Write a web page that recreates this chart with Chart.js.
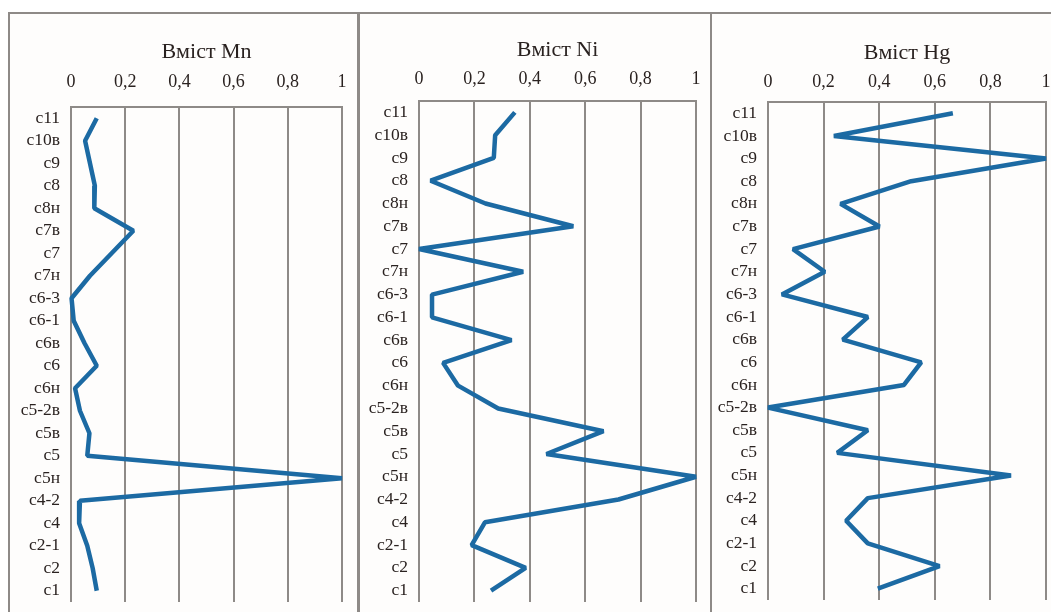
<!DOCTYPE html>
<html>
<head>
<meta charset="utf-8">
<script src="https://cdn.jsdelivr.net/npm/chart.js@4.4.1/dist/chart.umd.min.js"></script>
<style>
  html, body { margin: 0; padding: 0; background: #ffffff; }
  body { width: 1051px; height: 612px; position: relative; overflow: hidden; }
  .frame { position: absolute; box-sizing: border-box; border: 2px solid #8e8a87; background: #fefdfc; }
  canvas { position: absolute; }
</style>
</head>
<body>
<div class="frame" style="left:8px; top:12px; width:351px; height:640px;"></div>
<div class="frame" style="left:358px; top:12px; width:354px; height:640px;"></div>
<div class="frame" style="left:710px; top:12px; width:360px; height:640px;"></div>
<canvas id="mn" width="350" height="599" style="left:8px; top:13px;"></canvas>
<canvas id="ni" width="352" height="599" style="left:359px; top:13px;"></canvas>
<canvas id="hg" width="340" height="599" style="left:711px; top:13px;"></canvas>
<script>
// Sampling horizons, top of the section first
const categories = ['c11', 'c10в', 'c9', 'c8', 'c8н', 'c7в', 'c7', 'c7н', 'c6-3', 'c6-1', 'c6в',
  'c6', 'c6н', 'c5-2в', 'c5в', 'c5', 'c5н', 'c4-2', 'c4', 'c2-1', 'c2', 'c1'];

// Normalised element content per horizon
const mnValues = [0.095, 0.052, 0.07, 0.088, 0.086, 0.23, 0.15, 0.07, 0.002, 0.01, 0.05,
  0.095, 0.015, 0.033, 0.068, 0.06, 1.0, 0.033, 0.03, 0.06, 0.08, 0.095];
const niValues = [0.346, 0.275, 0.27, 0.042, 0.24, 0.557, 0.0, 0.376, 0.047, 0.047, 0.334,
  0.087, 0.141, 0.286, 0.666, 0.46, 1.0, 0.72, 0.238, 0.19, 0.385, 0.26];
const hgValues = [0.665, 0.237, 1.0, 0.515, 0.261, 0.401, 0.09, 0.204, 0.05, 0.359, 0.269,
  0.551, 0.489, 0.0, 0.359, 0.249, 0.874, 0.359, 0.281, 0.359, 0.617, 0.395];

const xTickLabels = ['0', '0,2', '0,4', '0,6', '0,8', '1'];

const panelTitles = ['Вміст Mn', 'Вміст Ni', 'Вміст Hg'];

const FONT = '"Liberation Serif", "Times New Roman", serif';
const TEXT = '#2a2220';
const GRID = '#8e8a87';
const LINE = '#1c6aa3';

function makePanel(id, title, values, geo) {
  return new Chart(document.getElementById(id), {
    type: 'line',
    data: {
      labels: categories,
      datasets: [{
        data: values,
        borderColor: LINE,
        borderWidth: 4.5,
        pointRadius: 0,
        tension: 0,
        fill: false,
        clip: false,
        borderJoinStyle: 'bevel'
      }]
    },
    options: {
      indexAxis: 'y',
      responsive: false,
      animation: false,
      devicePixelRatio: 1,
      layout: { padding: { left: 0, right: geo.right, top: 0, bottom: geo.bottom } },
      plugins: { legend: { display: false }, tooltip: { enabled: false } },
      scales: {
        x: {
          type: 'linear',
          position: 'top',
          min: 0,
          max: 1,
          ticks: {
            stepSize: 0.2,
            padding: geo.tickPad,
            color: TEXT,
            font: { family: FONT, size: 18 },
            callback: (v, i) => xTickLabels[i]
          },
          grid: { color: GRID, lineWidth: 2, drawTicks: false },
          border: { display: true, color: GRID, width: 2 },
          title: {
            display: true,
            text: title,
            color: TEXT,
            font: { family: FONT, size: 22 },
            padding: { top: geo.titlePad, bottom: 0 }
          },
          afterFit: (s) => { s.height = geo.top; s.paddingLeft = 0; s.paddingRight = 0; }
        },
        y: {
          type: 'category',
          offset: true,
          grid: { display: false, drawTicks: false },
          border: { display: false },
          ticks: {
            autoSkip: false,
            padding: 11,
            color: TEXT,
            font: { family: FONT, size: 17.5 }
          },
          afterFit: (s) => { s.width = geo.left; s.paddingTop = 0; s.paddingBottom = 0; }
        }
      }
    }
  });
}

makePanel('mn', panelTitles[0], mnValues, { left: 63, right: 16, top: 94, bottom: 10, tickPad: 14, titlePad: 26 });
makePanel('ni', panelTitles[1], niValues, { left: 60, right: 15, top: 88, bottom: 10, tickPad: 11, titlePad: 24 });
makePanel('hg', panelTitles[2], hgValues, { left: 57, right: 5, top: 89, bottom: 12, tickPad: 9, titlePad: 27 });
</script>
</body>
</html>
